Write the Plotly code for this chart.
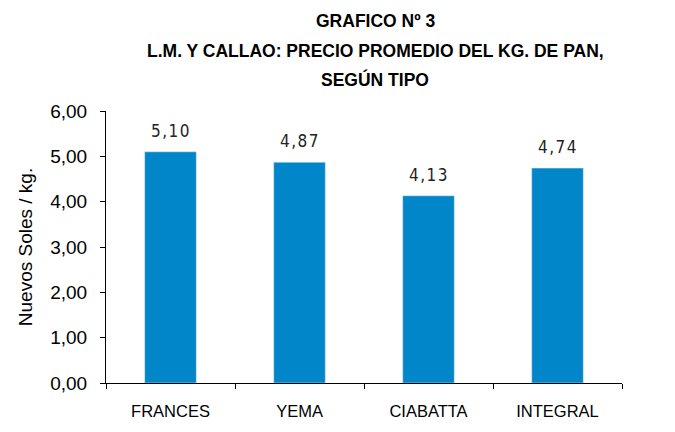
import plotly.graph_objects as go

categories = ["FRANCES", "YEMA", "CIABATTA", "INTEGRAL"]
precios = [5.10, 4.87, 4.13, 4.74]
y_ticks = [0, 1, 2, 3, 4, 5, 6]
title_lines = ["GRAFICO Nº 3", "L.M. Y CALLAO: PRECIO PROMEDIO DEL KG. DE PAN,", "SEGÚN TIPO"]
y_title = "Nuevos Soles / kg."

HS = "\u200a"
labels = [HS.join(f"{v:.2f}".replace(".", ",")) for v in precios]

W, H = 675, 432
L, T = 106, 111
R = W - 622
B = H - 391
ph = H - T - B
pw = W - L - R

fig = go.Figure()
fig.add_trace(go.Bar(
    x=categories, y=precios, marker_color="#0086C9", width=0.4,
    hoverinfo="skip",
))

for c, v, lab in zip(categories, precios, labels):
    fig.add_annotation(
        x=c, y=v, text=lab, showarrow=False, xanchor="center", yanchor="bottom",
        yshift=9,
        font=dict(family="DejaVu Sans Condensed, Arial", size=17, color="#222222"),
    )

title_y_px = [18, 49, 79]
for txt, py in zip(title_lines, title_y_px):
    fig.add_annotation(
        text=f"<b>{txt}</b>", xref="paper", yref="paper",
        x=(375 - L) / pw, y=(391 - py) / ph, xanchor="center", yanchor="middle",
        showarrow=False,
        font=dict(family="Liberation Sans, Arial", size=17.5, color="#000000"),
    )

fig.update_layout(
    width=W, height=H, autosize=False,
    margin=dict(l=L, r=R, t=T, b=B, pad=0),
    paper_bgcolor="white", plot_bgcolor="white",
    separators=",.",
    showlegend=False,
    font=dict(family="Liberation Sans, Arial", color="#000000"),
)
fig.update_yaxes(
    range=[0, 6], tickvals=y_ticks, tickformat=".2f",
    showline=True, linecolor="#000000", linewidth=1,
    ticks="outside", ticklen=5, tickcolor="#000000",
    showgrid=False, zeroline=False,
    ticklabelstandoff=9,
    tickfont=dict(size=19, family="Liberation Sans, Arial"),
    title=dict(text=y_title, font=dict(size=19, family="Liberation Sans, Arial"), standoff=12),
)
fig.update_xaxes(
    showline=True, linecolor="#000000", linewidth=1,
    ticks="outside", ticklen=5, tickcolor="#000000", tickson="boundaries",
    showgrid=False,
    ticklabelstandoff=13,
    tickfont=dict(size=16.5, family="Liberation Sans, Arial"),
)

fig.write_html(
    "out.html",
    config={"displayModeBar": False},
    post_script="document.body.style.margin='0';document.body.style.overflow='hidden';",
)
